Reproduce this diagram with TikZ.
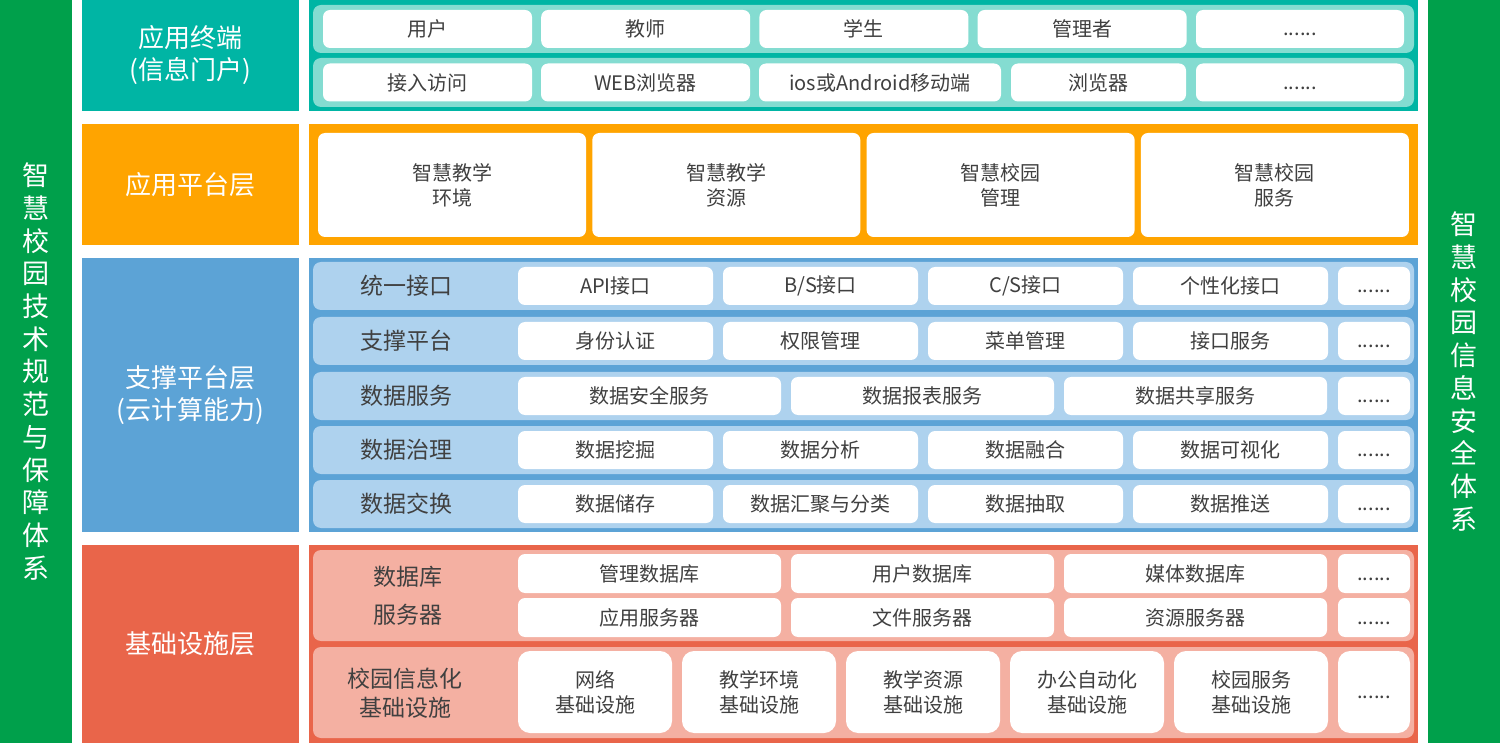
\documentclass[tikz,border=0pt]{standalone}
\usepackage{fontspec}
\setmainfont{Noto Sans CJK SC}
\usepackage{xcolor}
\usetikzlibrary{positioning}
\definecolor{sidegreen}{HTML}{00A04B}
\definecolor{termteal}{HTML}{00B5A4}
\definecolor{termlight}{HTML}{84DCD1}
\definecolor{apporange}{HTML}{FFA400}
\definecolor{supblue}{HTML}{5CA3D6}
\definecolor{suplight}{HTML}{AED2EE}
\definecolor{infrared}{HTML}{E9654A}
\definecolor{infralight}{HTML}{F4B0A2}
\definecolor{txtgray}{HTML}{404040}
\newcommand\moredots{\vphantom{用}......}

\begin{document}
\begin{tikzpicture}[x=1pt,y=-1pt,
    cell/.style={fill=white,rounded corners=7pt,inner sep=0pt,minimum height=38pt,text=txtgray,align=center,font=\fontsize{20}{25}\selectfont},
    strip/.style={rounded corners=8pt,inner sep=0pt},
    panel/.style={inner sep=0pt,minimum width=1109pt},
    layer/.style={inner sep=0pt,minimum width=217pt,text=white,align=center,font=\fontsize{26}{32}\selectfont},
    tag/.style={text=txtgray,align=center,font=\fontsize{23}{28}\selectfont},
    side/.style={fill=sidegreen,inner sep=0pt,minimum width=72pt,minimum height=743pt,text=white,align=center,font=\fontsize{27}{32.7}\selectfont}]
    \useasboundingbox (0,0) rectangle (1500,743);

    \node[side] (norms) at (36,371.5) {智\\慧\\校\\园\\技\\术\\规\\范\\与\\保\\障\\体\\系};
    \node[side] (safety) at (1464,371.5) {智\\慧\\校\\园\\信\\息\\安\\全\\体\\系};

    \node[layer,fill=termteal,minimum height=111pt] (termL) at (190.5,55.5) {应用终端\\(信息门户)};
    \node[panel,fill=termteal,minimum height=111pt] (termP) at (863.5,55.5) {};
    \node[strip,fill=termlight,minimum width=1101pt,minimum height=48pt] (termS1) at (863.5,29) {};
    \node[strip,fill=termlight,minimum width=1101pt,minimum height=49pt] (termS2) at (863.5,82.5) {};
    \foreach \t [count=\i] in {用户,教师,学生,管理者}
        \node[cell,minimum width=209pt] (user\i) at ({209.3+218.2*\i},29) {\t};
    \node[cell,minimum width=208pt] (user5) at (1300,29) {\moredots};
    \node[cell,minimum width=209pt] (acc1) at (427.5,82.5) {接入访问};
    \node[cell,minimum width=209pt] (acc2) at (645.5,82.5) {WEB浏览器};
    \node[cell,minimum width=242pt] (acc3) at (880,82.5) {ios或Android移动端};
    \node[cell,minimum width=175pt] (acc4) at (1098.5,82.5) {浏览器};
    \node[cell,minimum width=208pt] (acc5) at (1300,82.5) {\moredots};

    \node[layer,fill=apporange,minimum height=121pt] (appL) at (190.5,184.5) {应用平台层};
    \node[panel,fill=apporange,minimum height=121pt] (appP) at (863.5,184.5) {};
    \foreach \t [count=\i] in {智慧教学\\环境,智慧教学\\资源,智慧校园\\管理,智慧校园\\服务}
        \node[cell,minimum width=268pt,minimum height=104pt] (app\i) at ({177.7+274.3*\i},185) {\t};

    \node[layer,fill=supblue,minimum height=274pt] (supL) at (190.5,395) {支撑平台层\\(云计算能力)};
    \node[panel,fill=supblue,minimum height=274pt] (supP) at (863.5,395) {};
    \foreach \y [count=\r] in {286,341,396,450,504}
        \node[strip,fill=suplight,minimum width=1101pt,minimum height=48pt] (supS\r) at (863.5,\y) {};
    \foreach \t/\y [count=\r] in {统一接口/286,支撑平台/341,数据服务/396,数据治理/450,数据交换/504}
        \node[tag] (supT\r) at (406,\y) {\t};
    \foreach \t [count=\i] in {API接口,B/S接口,C/S接口,个性化接口}
        \node[cell,minimum width=195pt] (api\i) at ({410.5+205*\i},286) {\t};
    \foreach \t [count=\i] in {身份认证,权限管理,菜单管理,接口服务}
        \node[cell,minimum width=195pt] (base\i) at ({410.5+205*\i},341) {\t};
    \foreach \t [count=\i] in {数据安全服务,数据报表服务,数据共享服务}
        \node[cell,minimum width=263pt] (dsvc\i) at ({376.5+273*\i},396) {\t};
    \foreach \t [count=\i] in {数据挖掘,数据分析,数据融合,数据可视化}
        \node[cell,minimum width=195pt] (gov\i) at ({410.5+205*\i},450) {\t};
    \foreach \t [count=\i] in {数据储存,数据汇聚与分类,数据抽取,数据推送}
        \node[cell,minimum width=195pt] (xchg\i) at ({410.5+205*\i},504) {\t};
    \foreach \y/\n in {286/api,341/base,396/dsvc,450/gov,504/xchg}
        \node[cell,minimum width=72pt] (\n M) at (1374,\y) {\moredots};

    \node[layer,fill=infrared,minimum height=198pt] (infL) at (190.5,644) {基础设施层};
    \node[panel,fill=infrared,minimum height=198pt] (infP) at (863.5,644) {};
    \node[strip,fill=infralight,minimum width=1101pt,minimum height=91pt] (infS1) at (863.5,595.5) {};
    \node[strip,fill=infralight,minimum width=1101pt,minimum height=91pt] (infS2) at (863.5,692.5) {};
    \node[tag,font=\fontsize{23}{38}\selectfont] (infT1) at (408,596) {数据库\\服务器};
    \node[tag,font=\fontsize{23}{29}\selectfont] (infT2) at (405,693) {校园信息化\\基础设施};
    \foreach \t [count=\i] in {管理数据库,用户数据库,媒体数据库}
        \node[cell,minimum width=263pt,minimum height=39pt] (db\i) at ({376.5+273*\i},573.5) {\t};
    \foreach \t [count=\i] in {应用服务器,文件服务器,资源服务器}
        \node[cell,minimum width=263pt,minimum height=39pt] (srv\i) at ({376.5+273*\i},617.5) {\t};
    \node[cell,minimum width=72pt,minimum height=39pt] (dbM) at (1374,573.5) {\moredots};
    \node[cell,minimum width=72pt,minimum height=39pt] (srvM) at (1374,617.5) {\moredots};
    \foreach \t [count=\i] in {网络\\基础设施,教学环境\\基础设施,教学资源\\基础设施,办公自动化\\基础设施,校园服务\\基础设施}
        \node[cell,rounded corners=12pt,minimum width=154pt,minimum height=82pt] (fac\i) at ({431+164*\i},692) {\t};
    \node[cell,rounded corners=12pt,minimum width=72pt,minimum height=82pt] (facM) at (1374,692) {\moredots};
\end{tikzpicture}
\end{document}
